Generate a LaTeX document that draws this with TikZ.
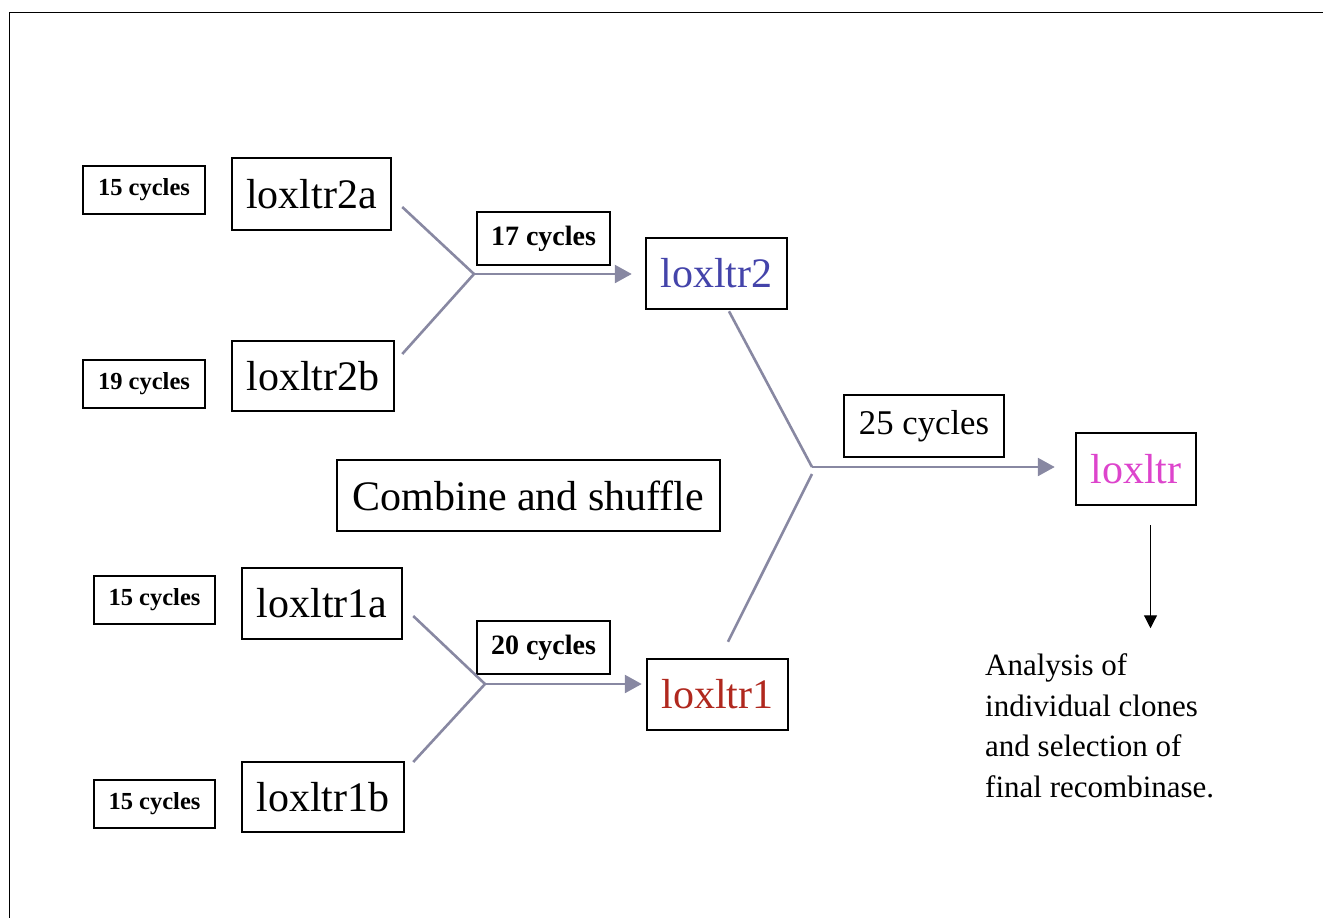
\documentclass[tikz,border=0pt]{standalone}
\usepackage{fontspec}
\setmainfont{Liberation Serif}
\usetikzlibrary{arrows.meta}
\definecolor{fork}{RGB}{136,136,162}
\definecolor{bluet}{RGB}{68,68,170}
\definecolor{redt}{RGB}{176,40,30}
\definecolor{magt}{RGB}{221,68,204}
\tikzset{
  box/.style={draw=black, line width=2.5pt, inner sep=0pt, anchor=center},
  bigtext/.style={box, font=\fontsize{42}{48}\selectfont},
  smallcyc/.style={box, minimum width=122pt, minimum height=48pt, font=\fontsize{24.5}{28}\selectfont\bfseries},
  midcyc/.style={box, minimum width=133pt, minimum height=53pt, font=\fontsize{28}{32}\selectfont\bfseries},
  forkline/.style={draw=fork, line width=2.6pt},
  forkarrow/.style={forkline, -{Triangle[length=17pt,width=18pt]}},
  blackarrow/.style={draw=black, line width=1.2pt, -{Triangle[length=13pt,width=13pt]}}
}
\begin{document}
\begin{tikzpicture}[x=1pt,y=-1pt]
\useasboundingbox (0,0) rectangle (1323,918);
\draw[line width=1.8pt] (9.5,918) -- (9.5,12.5) -- (1323,12.5);

% top group
\node[smallcyc] (c15a) at (144,190) {15 cycles};
\node[bigtext, minimum width=159pt, minimum height=72pt] (l2a) at (311.5,194) {loxltr2a};
\node[smallcyc] (c19) at (144,384) {19 cycles};
\node[bigtext, minimum width=162pt, minimum height=70pt] (l2b) at (313,376) {loxltr2b};
\node[midcyc] (c17) at (543.5,238.5) {17 cycles};
\node[bigtext, minimum width=141pt, minimum height=71pt, text=bluet] (l2) at (716.5,273.5) {loxltr2};

% middle
\node[bigtext, minimum width=383pt, minimum height=71pt] (comb) at (528.5,495.5) {Combine and shuffle};
\node[box, minimum width=160pt, minimum height=62pt, font=\fontsize{34.7}{40}\selectfont] (c25) at (924,426) {25 cycles};
\node[bigtext, minimum width=120pt, minimum height=72pt, text=magt] (lx) at (1136,469) {loxltr};

% bottom group
\node[smallcyc, minimum width=121pt] (c15b) at (154.5,600) {15 cycles};
\node[bigtext, minimum width=160pt, minimum height=71pt] (l1a) at (322,603.5) {loxltr1a};
\node[smallcyc, minimum width=121pt] (c15c) at (154.5,804) {15 cycles};
\node[bigtext, minimum width=162pt, minimum height=70pt] (l1b) at (323,797) {loxltr1b};
\node[midcyc] (c20) at (543.5,647.5) {20 cycles};
\node[bigtext, minimum width=141pt, minimum height=71pt, text=redt] (l1) at (717.5,694.5) {loxltr1};

% analysis text
\node[anchor=base west, align=left, inner sep=0pt, font=\fontsize{31}{40.5}\selectfont] (ana) at (985,797)
  {Analysis of\\individual clones\\and selection of\\final recombinase.};

% junctions
\coordinate (j2) at (474,274);
\coordinate (j1) at (485,684);
\coordinate (J) at (812,467);
\coordinate (Jb) at (812,474);

% top fork
\draw[forkline] ([xshift=10pt,yshift=-13pt]l2a.east) -- (j2);
\draw[forkline] ([xshift=7pt,yshift=22pt]l2b.east) -- (j2);
\draw[forkarrow] (j2) -- ([xshift=-13pt]l2.west |- j2);

% bottom fork
\draw[forkline] ([xshift=10pt,yshift=-12.5pt]l1a.east) -- (j1);
\draw[forkline] ([xshift=8pt,yshift=35pt]l1b.east) -- (j1);
\draw[forkarrow] (j1) -- ([xshift=-4pt]l1.west |- j1);

% big fork
\draw[forkline] ([xshift=12.5pt,yshift=-1pt]l2.south) -- (J);
\draw[forkline] ([xshift=10.5pt,yshift=16pt]l1.north) -- (Jb);
\draw[forkarrow] (J) -- ([xshift=-20pt]lx.west |- J);

% final arrow
\draw[blackarrow] ([xshift=14.5pt,yshift=-19pt]lx.south) -- ([xshift=14.5pt,yshift=-122pt]lx.south);
\end{tikzpicture}
\end{document}
